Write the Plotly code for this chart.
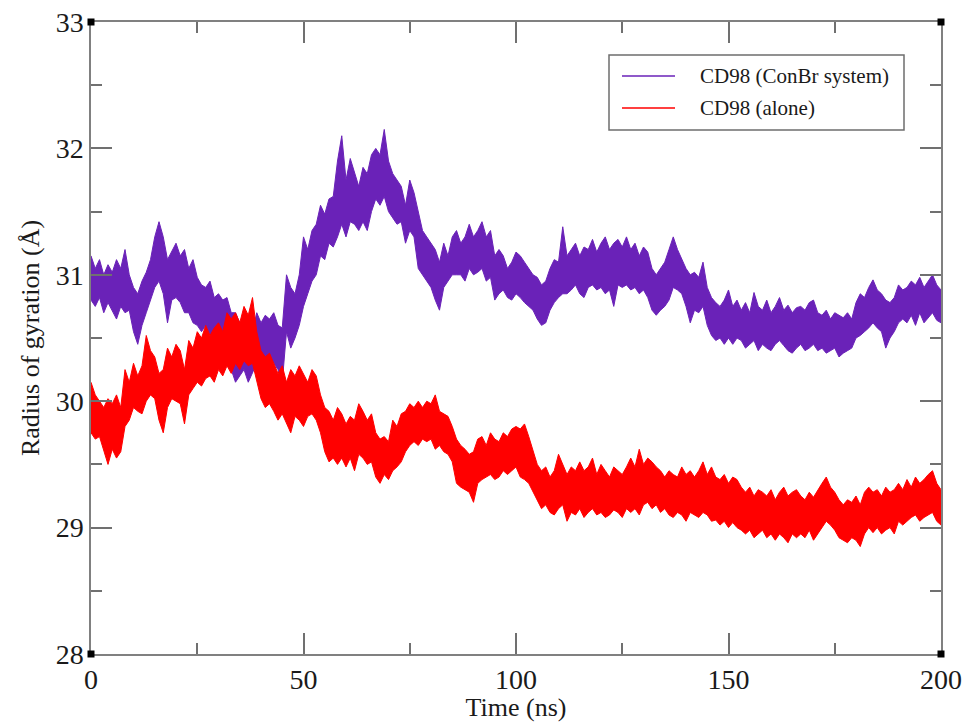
import plotly.graph_objects as go

# ---------------- data ----------------
time_ns = list(range(0, 201))

# CD98 (ConBr system): upper / lower edge of the fluctuating trace per ns
conbr_hi = [
    31.15, 31.05, 31.12, 31.00, 31.08, 31.02, 31.12, 31.05, 31.20, 31.00,
    30.90, 30.85, 30.95, 31.02, 31.12, 31.30, 31.42, 31.30, 31.12, 31.18,
    31.25, 31.15, 31.20, 31.05, 31.12, 30.98, 30.92, 30.90, 30.95, 30.82,
    30.85, 30.80, 30.82, 30.70, 30.70, 30.62, 30.58, 30.62, 30.55, 30.70,
    30.62, 30.68, 30.65, 30.70, 30.60, 30.58, 31.00, 30.90, 30.85, 31.00,
    31.30, 31.20, 31.35, 31.40, 31.55, 31.48, 31.60, 31.62, 31.90, 32.10,
    31.75, 31.92, 31.80, 31.70, 31.85, 31.80, 31.95, 32.00, 31.95, 32.15,
    31.90, 31.80, 31.75, 31.70, 31.55, 31.75, 31.65, 31.50, 31.35, 31.30,
    31.25, 31.20, 31.10, 31.25, 31.15, 31.30, 31.35, 31.25, 31.30, 31.40,
    31.30, 31.35, 31.42, 31.30, 31.35, 31.15, 31.20, 31.15, 31.05, 31.10,
    31.18, 31.15, 31.10, 31.05, 31.00, 30.98, 30.92, 30.95, 31.05, 31.12,
    31.10, 31.38, 31.15, 31.20, 31.25, 31.15, 31.22, 31.20, 31.28, 31.18,
    31.25, 31.30, 31.20, 31.25, 31.28, 31.22, 31.30, 31.20, 31.25, 31.15,
    31.22, 31.18, 31.05, 31.00, 31.05, 31.10, 31.20, 31.30, 31.20, 31.12,
    31.05, 31.00, 31.02, 30.98, 31.10, 30.90, 30.82, 30.78, 30.75, 30.80,
    30.88, 30.75, 30.80, 30.72, 30.78, 30.70, 30.86, 30.75, 30.72, 30.80,
    30.70, 30.75, 30.82, 30.72, 30.76, 30.70, 30.74, 30.75, 30.72, 30.78,
    30.80, 30.70, 30.68, 30.72, 30.65, 30.70, 30.68, 30.66, 30.70, 30.65,
    30.78, 30.85, 30.82, 30.90, 30.96, 30.88, 30.85, 30.80, 30.78, 30.82,
    30.92, 30.88, 30.90, 30.95, 30.92, 30.98, 30.90, 30.95, 31.00, 30.92,
    30.88,
]
conbr_lo = [
    30.80, 30.75, 30.82, 30.70, 30.78, 30.72, 30.65, 30.75, 30.70, 30.72,
    30.55, 30.45, 30.60, 30.70, 30.80, 30.90, 30.95, 30.85, 30.62, 30.80,
    30.82, 30.78, 30.70, 30.70, 30.62, 30.60, 30.55, 30.60, 30.52, 30.55,
    30.50, 30.45, 30.40, 30.25, 30.15, 30.20, 30.25, 30.15, 30.22, 30.30,
    30.35, 30.28, 30.35, 30.30, 30.25, 30.15, 30.55, 30.42, 30.50, 30.60,
    30.75, 30.85, 30.95, 31.00, 31.15, 31.12, 31.25, 31.22, 31.30, 31.40,
    31.30, 31.42, 31.40, 31.35, 31.42, 31.35, 31.50, 31.60, 31.55, 31.62,
    31.50, 31.45, 31.40, 31.42, 31.25, 31.35, 31.30, 31.05, 31.00, 30.95,
    30.90, 30.80, 30.72, 30.90, 30.95, 31.00, 31.00, 31.00, 30.95, 31.05,
    31.00, 31.02, 31.05, 30.95, 30.98, 30.80, 30.85, 30.88, 30.82, 30.80,
    30.85, 30.82, 30.78, 30.75, 30.72, 30.65, 30.60, 30.62, 30.72, 30.78,
    30.82, 30.85, 30.85, 30.88, 30.92, 30.85, 30.82, 30.90, 30.92, 30.88,
    30.90, 30.85, 30.88, 30.75, 30.92, 30.90, 30.92, 30.88, 30.90, 30.85,
    30.88, 30.82, 30.72, 30.68, 30.72, 30.75, 30.80, 30.90, 30.88, 30.85,
    30.75, 30.62, 30.72, 30.70, 30.75, 30.60, 30.52, 30.48, 30.50, 30.45,
    30.50, 30.45, 30.50, 30.48, 30.42, 30.45, 30.48, 30.40, 30.45, 30.42,
    30.40, 30.45, 30.48, 30.44, 30.40, 30.38, 30.42, 30.45, 30.40, 30.42,
    30.45, 30.40, 30.42, 30.38, 30.40, 30.42, 30.35, 30.38, 30.40, 30.42,
    30.50, 30.52, 30.55, 30.58, 30.62, 30.58, 30.55, 30.42, 30.50, 30.55,
    30.62, 30.65, 30.62, 30.68, 30.60, 30.70, 30.62, 30.66, 30.70, 30.64,
    30.62,
]

# CD98 (alone)
alone_hi = [
    30.15, 30.05, 30.00, 29.95, 30.02, 29.98, 30.05, 29.95, 30.25, 30.15,
    30.30, 30.20, 30.28, 30.52, 30.40, 30.35, 30.22, 30.25, 30.42, 30.35,
    30.45, 30.40, 30.25, 30.48, 30.42, 30.55, 30.50, 30.60, 30.52, 30.58,
    30.62, 30.55, 30.70, 30.65, 30.70, 30.62, 30.75, 30.68, 30.82, 30.55,
    30.40, 30.35, 30.38, 30.30, 30.22, 30.28, 30.15, 30.25, 30.20, 30.28,
    30.22, 30.15, 30.25, 30.20, 30.05, 29.95, 29.92, 29.85, 29.95, 29.90,
    29.82, 29.88, 29.85, 29.98, 29.92, 29.85, 29.90, 29.75, 29.70, 29.72,
    29.68, 29.85, 29.80, 29.90, 29.92, 29.98, 29.95, 30.00, 29.95, 30.00,
    29.98, 30.05, 29.92, 29.90, 29.88, 29.80, 29.70, 29.65, 29.62, 29.58,
    29.60, 29.70, 29.72, 29.65, 29.75, 29.70, 29.68, 29.75, 29.72, 29.78,
    29.80, 29.78, 29.82, 29.72, 29.60, 29.50, 29.45, 29.48, 29.40, 29.45,
    29.58, 29.50, 29.42, 29.48, 29.45, 29.52, 29.45, 29.48, 29.55, 29.42,
    29.50, 29.45, 29.40, 29.48, 29.45, 29.42, 29.48, 29.55, 29.48, 29.62,
    29.50, 29.55, 29.52, 29.48, 29.45, 29.40, 29.45, 29.42, 29.40, 29.48,
    29.42, 29.45, 29.40, 29.45, 29.52, 29.42, 29.48, 29.40, 29.38, 29.42,
    29.35, 29.40, 29.38, 29.32, 29.28, 29.32, 29.25, 29.30, 29.28, 29.25,
    29.30, 29.22, 29.28, 29.32, 29.25, 29.28, 29.30, 29.25, 29.22, 29.28,
    29.24, 29.30, 29.35, 29.40, 29.32, 29.28, 29.22, 29.18, 29.22, 29.20,
    29.25, 29.18, 29.28, 29.32, 29.28, 29.30, 29.25, 29.32, 29.28, 29.30,
    29.35, 29.30, 29.38, 29.32, 29.40, 29.35, 29.38, 29.42, 29.45, 29.35,
    29.30,
]
alone_lo = [
    29.75, 29.70, 29.72, 29.60, 29.50, 29.62, 29.55, 29.60, 29.80, 29.85,
    29.95, 29.92, 29.90, 30.00, 30.05, 30.02, 29.85, 29.75, 29.95, 30.02,
    30.00, 29.98, 29.82, 30.05, 30.10, 30.15, 30.12, 30.18, 30.20, 30.15,
    30.25, 30.20, 30.28, 30.22, 30.30, 30.25, 30.32, 30.28, 30.30, 30.15,
    30.02, 29.95, 29.98, 29.92, 29.85, 29.90, 29.82, 29.75, 29.88, 29.85,
    29.80, 29.88, 29.90, 29.85, 29.75, 29.60, 29.52, 29.55, 29.50, 29.55,
    29.48, 29.55, 29.45, 29.58, 29.55, 29.50, 29.52, 29.40, 29.35, 29.42,
    29.38, 29.45, 29.48, 29.52, 29.60, 29.65, 29.68, 29.65, 29.70, 29.68,
    29.70, 29.62, 29.65, 29.60, 29.58, 29.52, 29.35, 29.32, 29.30, 29.28,
    29.20, 29.35, 29.38, 29.40, 29.42, 29.38, 29.40, 29.45, 29.42, 29.45,
    29.48, 29.40, 29.38, 29.35, 29.28, 29.22, 29.15, 29.18, 29.12, 29.10,
    29.15, 29.18, 29.05, 29.12, 29.10, 29.15, 29.08, 29.12, 29.15, 29.10,
    29.12, 29.08, 29.10, 29.14, 29.12, 29.08, 29.15, 29.12, 29.15, 29.10,
    29.18, 29.20, 29.15, 29.18, 29.12, 29.15, 29.10, 29.08, 29.12, 29.10,
    29.05, 29.12, 29.10, 29.08, 29.12, 29.10, 29.05, 29.06, 29.02, 29.05,
    29.00, 29.04, 29.00, 28.98, 28.95, 28.98, 28.92, 28.95, 28.98, 28.92,
    28.95, 28.90, 28.95, 28.92, 28.88, 28.95, 28.92, 28.95, 28.92, 28.98,
    28.90, 28.95, 29.00, 29.05, 29.02, 28.98, 28.92, 28.90, 28.88, 28.92,
    28.90, 28.85, 28.95, 29.00, 28.96, 29.00, 28.95, 28.98, 29.00, 28.95,
    29.05, 29.02, 29.05, 29.08, 29.10, 29.05, 29.08, 29.10, 29.12, 29.05,
    29.02,
]

series_names = ["CD98 (ConBr system)", "CD98 (alone)"]
series_colors = ["#6a22b8", "#ff0000"]
x_ticks = [0, 50, 100, 150, 200]
y_ticks = [28, 29, 30, 31, 32, 33]

# ---------------- figure ----------------
FONT = "Liberation Serif, Times New Roman, serif"
fig = go.Figure()

for name, color, lo, hi in [
    (series_names[0], series_colors[0], conbr_lo, conbr_hi),
    (series_names[1], series_colors[1], alone_lo, alone_hi),
]:
    fig.add_trace(go.Scatter(x=time_ns, y=lo, mode="lines",
                             line=dict(color=color, width=1),
                             showlegend=False, hoverinfo="skip"))
    fig.add_trace(go.Scatter(x=time_ns, y=hi, mode="lines", name=name,
                             line=dict(color=color, width=1),
                             fill="tonexty", fillcolor=color,
                             showlegend=False))

axis_common = dict(
    showgrid=False, zeroline=False, automargin=False,
    showline=True, linecolor="#808080", linewidth=1.5,
    mirror="allticks",
    ticks="inside", ticklen=21, tickwidth=1.5, tickcolor="#707070",
    tickfont=dict(family=FONT, size=28, color="#1a1a1a"),
)

fig.update_layout(
    width=966, height=722,
    margin=dict(l=91, r=25, t=22, b=68),
    paper_bgcolor="white", plot_bgcolor="white",
    showlegend=False,
    xaxis=dict(range=[0, 200], tickvals=x_ticks,
               minor=dict(dtick=25, ticklen=11, tickwidth=1.5,
                          tickcolor="#707070", ticks="inside"),
               title=dict(text="Time (ns)", standoff=1,
                          font=dict(family=FONT, size=26, color="#1a1a1a")),
               **axis_common),
    yaxis=dict(range=[28, 33], tickvals=y_ticks,
               minor=dict(dtick=0.5, ticklen=11, tickwidth=1.5,
                          tickcolor="#707070", ticks="inside"),
               title=dict(text="Radius of gyration (Å)", standoff=9,
                          font=dict(family=FONT, size=26, color="#1a1a1a")),
               **axis_common),
)

# corner markers (Grace-style)
for cx in (0, 1):
    for cy in (0, 1):
        fig.add_shape(type="rect", xref="paper", yref="paper",
                      xsizemode="pixel", ysizemode="pixel",
                      xanchor=cx, yanchor=cy, x0=-3.5, x1=3.5, y0=-3.5, y1=3.5,
                      fillcolor="black", line=dict(color="black", width=0),
                      layer="above")

# legend box drawn in paper coordinates
def px_to_paper_x(px):
    return (px - 91) / 850.0

def px_to_paper_y(py):
    return (654 - py) / 632.0

fig.add_shape(type="rect", xref="paper", yref="paper",
              x0=px_to_paper_x(609), x1=px_to_paper_x(904),
              y0=px_to_paper_y(130), y1=px_to_paper_y(55),
              line=dict(color="#6e6e6e", width=1.5), fillcolor="white",
              layer="above")
for i, (name, color) in enumerate(zip(series_names, series_colors)):
    yy = px_to_paper_y(76 + 32 * i)
    fig.add_shape(type="line", xref="paper", yref="paper",
                  x0=px_to_paper_x(622), x1=px_to_paper_x(675), y0=yy, y1=yy,
                  line=dict(color=color, width=1.5), layer="above")
    fig.add_annotation(xref="paper", yref="paper", x=px_to_paper_x(698), y=yy,
                       text=name, showarrow=False, xanchor="left", yanchor="middle",
                       font=dict(family=FONT, size=21, color="#1a1a1a"))

fig.write_html("out.html")
